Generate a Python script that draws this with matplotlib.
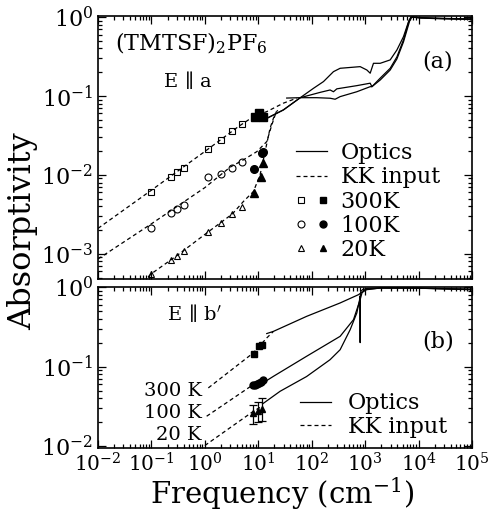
import matplotlib
matplotlib.use('Agg')
import matplotlib.pyplot as plt
from matplotlib.lines import Line2D
from matplotlib.legend_handler import HandlerTuple
from matplotlib.ticker import LogLocator, NullFormatter

plt.rcParams['font.family'] = ['DejaVu Serif']
plt.rcParams['mathtext.fontset'] = 'dejavuserif'

# ---------------- panel (a): E || a ----------------
f_open = [0.1, 0.233, 0.30, 0.40, 1.16, 2.0, 3.27, 4.9]
a300_open = [6.1e-3, 9.4e-3, 0.0108, 0.0123, 0.0211, 0.0277, 0.036, 0.0438]
a100_open = [2.15e-3, 3.27e-3, 3.68e-3, 4.17e-3, 9.35e-3, 0.0103, 0.0122, 0.0147]
a20_open = [5.6e-4, 8.4e-4, 9.4e-4, 1.09e-3, 1.88e-3, 2.45e-3, 3.18e-3, 3.9e-3]

f300_fill = [8.7, 10.3, 12.5]
a300_fill = [0.0547, 0.0615, 0.0537]
f100_fill = [8.3, 11.6, 12.4]
a100_fill = [0.0118, 0.0188, 0.0197]
f20_fill = [8.3, 11.1, 12.1]
a20_fill = [5.9e-3, 9.5e-3, 0.0143]

kk300_f = [0.01, 0.1, 1.0, 4.24, 8.1, 14.4, 29.5, 52.0]
kk300_a = [2.1e-3, 6.4e-3, 0.0198, 0.0409, 0.0547, 0.0633, 0.081, 0.0935]
kk100_f = [0.01, 0.1, 1.0, 2.96, 5.26, 9.38, 14.4, 17.9, 20.7, 23.0]
kk100_a = [8.6e-4, 2.4e-3, 6.9e-3, 0.0125, 0.0155, 0.0197, 0.0264, 0.043, 0.0575, 0.066]
kk20_f = [0.07, 0.1, 0.3, 1.16, 3.27, 5.26, 8.1, 10.8, 13.4, 16.6, 19.2, 22.0]
kk20_a = [4.4e-4, 5.6e-4, 9.5e-4, 1.9e-3, 3.2e-3, 4.6e-3, 6.15e-3, 0.01, 0.0197, 0.039, 0.0522, 0.064]

opt300_f = [34, 61, 108, 166, 255, 340, 806, 1076, 1242, 1430, 1910, 2940, 3925, 5210, 6460, 7250, 10700, 25000, 100000]
opt300_a = [0.094, 0.095, 0.125, 0.152, 0.203, 0.224, 0.235, 0.213, 0.194, 0.259, 0.259, 0.286, 0.382, 0.563, 0.865, 1.0, 0.97, 0.95, 0.93]
opt100_f = [14.4, 29.5, 61, 144, 221, 255, 295, 698, 1242, 1337, 1910, 2940, 3925, 5210, 6670, 7350, 11000, 30000, 100000]
opt100_a = [0.052, 0.0665, 0.095, 0.111, 0.119, 0.113, 0.123, 0.135, 0.145, 0.131, 0.168, 0.224, 0.312, 0.512, 0.916, 1.0, 0.975, 0.955, 0.94]
opt20_f = [14.4, 29.5, 61, 124, 221, 274, 340, 698, 1242, 1337, 1910, 2940, 3925, 5210, 6800, 7500, 12000, 30000, 100000]
opt20_a = [0.052, 0.0665, 0.095, 0.095, 0.0935, 0.0908, 0.098, 0.113, 0.131, 0.131, 0.159, 0.213, 0.294, 0.483, 0.89, 1.0, 0.98, 0.96, 0.945]

# ---------------- panel (b): E || b' ----------------
b300_kk_f = [1.16, 8.1, 14.4, 19.2]
b300_kk_a = [0.054, 0.149, 0.229, 0.277]
b300_sq_f = [8.3, 10.5, 11.9]
b300_sq_a = [0.146, 0.18, 0.185]
b300_opt_f = [14.4, 19.2, 80.5, 340, 748, 865, 1070, 1900, 8000, 93000]
b300_opt_a = [0.26, 0.277, 0.428, 0.63, 0.80, 0.855, 0.925, 0.97, 0.97, 0.925]

b100_kk_f = [1.08, 8.1, 13]
b100_kk_a = [0.0238, 0.0596, 0.066]
b100_ci_f = [8.1, 8.8, 9.5, 10.3, 11.2, 12.0]
b100_ci_a = [0.058, 0.059, 0.061, 0.062, 0.064, 0.067]
b100_opt_f = [13, 19.2, 80.5, 340, 605, 806, 870, 1000, 1900, 8000, 93000]
b100_opt_a = [0.064, 0.0755, 0.135, 0.24, 0.389, 0.693, 0.84, 0.93, 0.97, 0.97, 0.93]

b20_kk_f = [1.0, 8.1, 12]
b20_kk_a = [0.0102, 0.0275, 0.032]
b20_tr_f = [8.1, 10.0, 11.6]
b20_tr_a = [0.026, 0.0275, 0.029]
b20_err_lo = [0.0188, 0.020, 0.021]
b20_err_hi = [0.0334, 0.036, 0.0408]
b20_opt_f = [12, 25.6, 80, 220, 340, 524, 698, 790, 800, 806, 812, 830, 900, 1100, 2000, 8000, 100000]
b20_opt_a = [0.034, 0.049, 0.075, 0.122, 0.163, 0.291, 0.472, 0.70, 0.76, 0.2, 0.8, 0.88, 0.93, 0.96, 0.975, 0.97, 0.94]

LW = 0.9
DASH = (0, (3.2, 2.4))

fig = plt.figure(figsize=(4.92, 5.12), dpi=100)
axA = fig.add_axes([0.1992, 0.4551, 0.7602, 0.5137])
axB = fig.add_axes([0.1992, 0.1250, 0.7602, 0.3145])

for ax in (axA, axB):
    ax.set_xscale('log')
    ax.set_yscale('log')
    ax.set_xlim(1e-2, 1e5)
    ax.tick_params(which='both', direction='in', top=True, right=True, labelsize=16, width=0.9)
    ax.tick_params(axis='x', labelsize=14.5, pad=3)
    ax.tick_params(which='major', length=6)
    ax.tick_params(which='minor', length=3)
    ax.xaxis.set_major_locator(LogLocator(base=10, numticks=20))
    ax.xaxis.set_minor_locator(LogLocator(base=10, subs=range(2, 10), numticks=40))
    ax.xaxis.set_minor_formatter(NullFormatter())
    ax.yaxis.set_minor_locator(LogLocator(base=10, subs=range(2, 10), numticks=40))
    ax.yaxis.set_minor_formatter(NullFormatter())
    for s in ax.spines.values():
        s.set_linewidth(1.2)

axA.set_ylim(4.8e-4, 1.03)
axB.set_ylim(0.0095, 1.0)
axA.tick_params(labelbottom=False)

# panel (a) data
for fx, ay in ((kk300_f, kk300_a), (kk100_f, kk100_a), (kk20_f, kk20_a)):
    axA.plot(fx, ay, color='k', lw=LW, ls=DASH)
for fx, ay in ((opt300_f, opt300_a), (opt100_f, opt100_a), (opt20_f, opt20_a)):
    axA.plot(fx, ay, color='k', lw=LW)
axA.plot(f_open, a300_open, ls='none', marker='s', ms=5, mfc='none', mec='k', mew=0.8)
axA.plot(f_open, a100_open, ls='none', marker='o', ms=5, mfc='none', mec='k', mew=0.8)
axA.plot(f_open, a20_open, ls='none', marker='^', ms=5, mfc='none', mec='k', mew=0.8)
axA.plot(f300_fill, a300_fill, ls='none', marker='s', ms=5.5, color='k')
axA.plot(f100_fill, a100_fill, ls='none', marker='o', ms=5.5, color='k')
axA.plot(f20_fill, a20_fill, ls='none', marker='^', ms=5.5, color='k')

axA.text(0.045, 0.897, r'(TMTSF)$_2$PF$_6$', transform=axA.transAxes, fontsize=16, va='center', ha='left')
axA.text(0.174, 0.757, r'E$\,\parallel\,$a', transform=axA.transAxes, fontsize=14, va='center', ha='left')
axA.text(0.866, 0.826, '(a)', transform=axA.transAxes, fontsize=16, va='center', ha='left')

hA = [Line2D([], [], color='k', lw=LW),
      Line2D([], [], color='k', lw=LW, ls=DASH),
      (Line2D([], [], ls='none', marker='s', ms=5, mfc='none', mec='k', mew=0.8),
       Line2D([], [], ls='none', marker='s', ms=5, color='k')),
      (Line2D([], [], ls='none', marker='o', ms=5, mfc='none', mec='k', mew=0.8),
       Line2D([], [], ls='none', marker='o', ms=5, color='k')),
      (Line2D([], [], ls='none', marker='^', ms=5, mfc='none', mec='k', mew=0.8),
       Line2D([], [], ls='none', marker='^', ms=5, color='k'))]
lA = ['Optics', 'KK input', '300K', '100K', '20K']
axA.legend(hA, lA, loc='upper left', bbox_to_anchor=(0.53, 0.52), frameon=False,
           fontsize=16, handlelength=1.4, handletextpad=0.6, labelspacing=0.1,
           borderpad=0, borderaxespad=0,
           handler_map={tuple: HandlerTuple(ndivide=None, pad=0.6)})

# panel (b) data
axB.plot(b300_kk_f, b300_kk_a, color='k', lw=LW, ls=DASH)
axB.plot(b100_kk_f, b100_kk_a, color='k', lw=LW, ls=DASH)
axB.plot(b20_kk_f, b20_kk_a, color='k', lw=LW, ls=DASH)
axB.plot(b300_opt_f, b300_opt_a, color='k', lw=LW)
axB.plot(b100_opt_f, b100_opt_a, color='k', lw=LW)
axB.plot(b20_opt_f, b20_opt_a, color='k', lw=LW)
axB.plot(b300_sq_f, b300_sq_a, ls='none', marker='s', ms=5, color='k')
axB.plot(b100_ci_f, b100_ci_a, ls='none', marker='o', ms=5, color='k')
yerr = [[a - lo for a, lo in zip(b20_tr_a, b20_err_lo)], [hi - a for a, hi in zip(b20_tr_a, b20_err_hi)]]
axB.errorbar(b20_tr_f, b20_tr_a, yerr=yerr, fmt='^', ms=5, color='k', ecolor='k', elinewidth=0.9, capsize=3, capthick=0.9)

axB.text(0.875, 0.049, '300 K', fontsize=14, ha='right', va='center')
axB.text(0.875, 0.0262, '100 K', fontsize=14, ha='right', va='center')
axB.text(0.875, 0.014, '20 K', fontsize=14, ha='right', va='center')
axB.text(0.184, 0.839, r'E$\,\parallel\,$b$^{\prime}$', transform=axB.transAxes, fontsize=14, va='center', ha='left')
axB.text(0.866, 0.66, '(b)', transform=axB.transAxes, fontsize=16, va='center', ha='left')

hB = [Line2D([], [], color='k', lw=LW), Line2D([], [], color='k', lw=LW, ls=DASH)]
axB.legend(hB, ['Optics', 'KK input'], loc='upper left', bbox_to_anchor=(0.54, 0.345), frameon=False,
           fontsize=16, handlelength=1.4, handletextpad=0.75, labelspacing=0.08,
           borderpad=0, borderaxespad=0)

fig.text(0.045, 0.548, 'Absorptivity', rotation=90, ha='center', va='center', fontsize=23)
fig.text(0.573, 0.036, r'Frequency (cm$^{-1}$)', ha='center', va='center', fontsize=21)

fig.savefig('out.png', dpi=100)
